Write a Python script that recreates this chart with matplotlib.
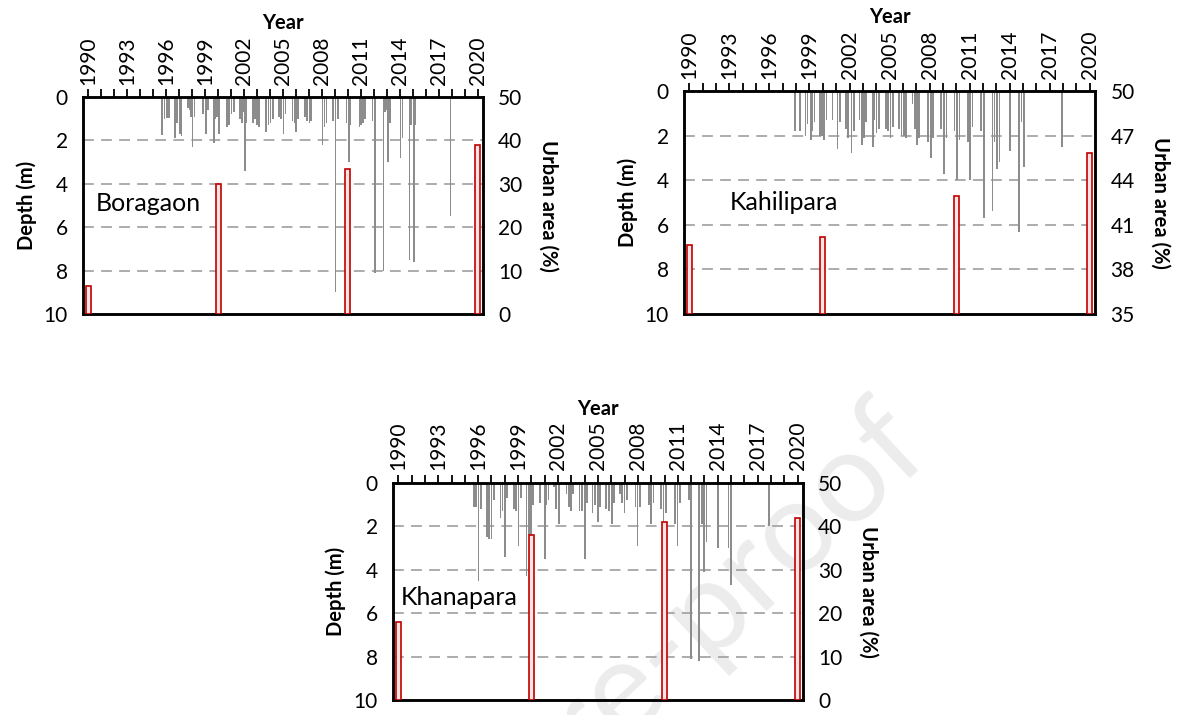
import matplotlib.pyplot as plt
import numpy as np

plt.rcParams['font.family'] = ['Lato', 'DejaVu Sans']

# urban area (%) for census years
urb_years = [1990, 2000, 2010, 2020]
bor_urban = [6.5, 30.0, 33.5, 39.0]
kah_urban = [39.65, 40.2, 42.95, 45.8]
kha_urban = [18.0, 38.0, 41.0, 42.0]

# depth to water level (m), time in decimal years
bor_t = [1995.67, 1995.88, 1996.05, 1996.23, 1996.68, 1996.85, 1997.06, 1997.18,
         1997.66, 1997.80, 1997.92, 1998.04, 1998.19, 1998.84, 1999.08, 1999.23,
         1999.67, 1999.79, 1999.94, 2000.09, 2000.68, 2000.86, 2001.04, 2001.22,
         2001.69, 2001.84, 2001.93, 2002.05, 2002.20, 2002.70, 2002.85, 2003.00, 2003.15,
         2003.71, 2003.89, 2004.04, 2004.21, 2004.69, 2004.87, 2005.04, 2005.19,
         2005.73, 2005.88, 2006.02, 2006.17, 2006.71, 2006.85, 2007.03, 2007.18,
         2008.04, 2008.19, 2008.34, 2008.87, 2009.05, 2009.23, 2009.88, 2010.06, 2010.21,
         2010.89, 2011.01, 2011.16, 2011.31, 2011.90, 2012.11,
         2012.73, 2012.88, 2013.00, 2013.09, 2013.26, 2014.06, 2014.21,
         2014.75, 2014.87, 2015.07, 2015.16, 2017.89]
bor_d = [1.75, 1.0, 0.95, 0.95, 1.9, 1.2, 1.7, 1.8,
         0.5, 0.6, 0.9, 2.3, 0.9, 0.8, 1.7, 0.6,
         2.1, 1.0, 0.9, 1.7, 1.4, 1.3, 0.8, 0.7,
         1.0, 1.2, 0.7, 3.4, 1.2, 1.2, 1.0, 1.3, 1.4,
         1.6, 1.3, 1.2, 1.0, 0.9, 1.0, 1.7, 0.8,
         1.1, 1.2, 1.6, 1.0, 0.9, 1.1, 1.2, 1.1,
         2.2, 1.4, 1.2, 1.1, 9.0, 1.0, 1.2, 3.0, 1.3,
         1.4, 1.3, 1.2, 1.0, 1.1, 8.1,
         8.0, 0.7, 0.6, 3.0, 1.2, 2.8, 1.9,
         7.5, 1.3, 7.6, 1.3, 5.5]

kah_t = [1997.94, 1998.28, 1998.71, 1998.86, 1999.09, 1999.23, 1999.38,
         1999.78, 1999.92, 2000.09, 2000.27, 2000.73, 2001.10, 2001.27,
         2001.73, 2001.90, 2002.14, 2002.31, 2002.74, 2002.91, 2003.09, 2003.26,
         2003.75, 2003.86, 2004.03, 2004.21, 2004.73, 2004.90, 2005.07, 2005.24,
         2005.73, 2005.90, 2006.08, 2006.25, 2006.71, 2006.88, 2007.05, 2007.23,
         2007.89, 2008.09, 2008.23, 2008.87, 2009.07, 2009.27, 2009.87, 2010.07, 2010.25,
         2010.88, 2011.02, 2011.22, 2011.86, 2012.09,
         2012.72, 2012.86, 2013.04, 2013.24, 2014.04, 2014.68, 2014.88, 2015.05, 2017.90]
kah_d = [1.8, 1.8, 2.0, 1.5, 2.2, 1.8, 1.4,
         2.0, 2.0, 2.2, 1.3, 1.3, 2.6, 1.4,
         1.7, 2.1, 2.8, 1.8, 1.3, 2.4, 2.1, 1.4,
         2.5, 1.3, 1.9, 1.7, 1.7, 1.8, 2.1, 1.6,
         1.7, 2.0, 2.0, 2.1, 0.6, 1.7, 2.4, 2.1,
         2.3, 3.0, 2.1, 1.7, 3.7, 2.1, 1.8, 4.0, 2.2,
         2.3, 4.0, 1.6, 1.8, 5.7,
         5.4, 2.3, 3.5, 3.2, 2.7, 6.3, 1.4, 3.4, 2.5]

kha_t = [1995.68, 1995.83, 1996.03, 1996.20, 1996.66, 1996.84, 1997.01, 1997.21,
         1997.67, 1997.82, 1998.02, 1998.19, 1998.68, 1998.83, 1999.03, 1999.20,
         1999.63, 1999.81, 1999.95, 2000.12, 2000.64, 2001.02, 2001.13, 2001.28,
         2001.71, 2001.85, 2002.06, 2002.63, 2002.81, 2002.98, 2003.15,
         2003.61, 2003.79, 2004.02, 2004.16, 2004.59, 2004.77, 2005.00, 2005.14,
         2005.63, 2005.81, 2006.04, 2006.18, 2006.64, 2006.82, 2006.99, 2007.16,
         2007.83, 2007.97, 2008.14, 2008.84, 2009.01, 2009.18, 2009.76, 2009.93, 2010.10,
         2010.77, 2010.97, 2011.14, 2011.83, 2012.01,
         2012.61, 2012.79, 2012.96, 2013.16, 2014.00, 2014.81, 2014.98, 2017.83]
kha_d = [1.1, 1.1, 4.5, 1.2, 2.5, 2.6, 2.6, 0.8,
         1.6, 1.3, 3.4, 0.7, 1.2, 1.3, 2.9, 0.7,
         4.3, 2.4, 2.7, 1.0, 0.9, 3.5, 1.0, 0.8,
         0.2, 1.2, 1.9, 0.5, 1.1, 1.3, 0.5,
         1.3, 1.3, 3.5, 0.9, 1.4, 1.0, 1.8, 1.1,
         1.2, 1.3, 1.9, 0.9, 0.5, 0.9, 1.4, 0.8,
         1.1, 2.9, 1.1, 1.0, 1.9, 0.9, 1.2, 1.8, 1.4,
         1.9, 2.9, 0.9, 0.8, 8.1,
         8.2, 1.9, 4.1, 2.7, 3.0, 3.0, 4.7, 2.0]

fig = plt.figure(figsize=(11.89, 7.15), dpi=100)

# journal watermark behind the plots
fig.text(0.594, 0.15, 'Pre-proof', fontsize=92, color='#ececec', rotation=43,
         ha='center', va='center', zorder=-1)


def panel(rect, t, d, urban, ulim, uticks, name, name_xy):
    ax = fig.add_axes(rect)
    ax.set_facecolor('none')
    ax.bar(t, d, width=0.13, color='#8c8c8c', zorder=2)
    ax.set_xlim(1989.6, 2020.4)
    ax.set_ylim(10, 0)
    ax.set_yticks([0, 2, 4, 6, 8, 10])
    for g in [2, 4, 6, 8]:
        ax.axhline(g, color='#a6a6a6', lw=1.3, ls=(0, (6, 4)), zorder=1)
    ax.xaxis.tick_top()
    ax.xaxis.set_label_position('top')
    ax.set_xticks(np.arange(1990, 2021, 3))
    ax.set_xticks(np.arange(1990, 2021, 1), minor=True)
    ax.tick_params(axis='x', which='both', direction='out', length=6, width=1.3,
                   labelsize=15, labelrotation=90, pad=3)
    ax.tick_params(axis='y', length=0, labelsize=15, pad=11)
    ax.set_xlabel('Year', fontsize=14.5, fontweight='bold', labelpad=5)
    ax.set_ylabel('Depth (m)', fontsize=14.5, fontweight='bold', labelpad=5)
    for s in ax.spines.values():
        s.set_linewidth(1.8)
    ax.text(name_xy[0], name_xy[1], name, fontsize=18, va='center', ha='left')

    ax2 = ax.twinx()
    ax2.bar(urb_years, np.array(urban) - ulim[0], bottom=ulim[0], width=0.38,
            facecolor='#f7e4e4', edgecolor='#c00000', linewidth=1.2, zorder=3)
    ax2.set_ylim(ulim)
    ax2.set_yticks(uticks)
    ax2.tick_params(axis='y', length=0, labelsize=15, pad=11)
    ax2.set_ylabel('Urban area (%)', fontsize=14.5, fontweight='bold',
                   rotation=270, labelpad=26)
    for s in ax2.spines.values():
        s.set_linewidth(1.8)
    return ax


panel([0.0698, 0.5608, 0.3364, 0.3035], bor_t, bor_d, bor_urban, (0, 50),
      [0, 10, 20, 30, 40, 50], 'Boragaon', (1990.6, 4.9))
panel([0.5753, 0.5608, 0.3457, 0.3119], kah_t, kah_d, kah_urban, (35, 50),
      [35, 38, 41, 44, 47, 50], 'Kahilipara', (1993.0, 5.0))
panel([0.3305, 0.0210, 0.3448, 0.3035], kha_t, kha_d, kha_urban, (0, 50),
      [0, 10, 20, 30, 40, 50], 'Khanapara', (1990.2, 5.3))

fig.savefig('out.png', dpi=100)
